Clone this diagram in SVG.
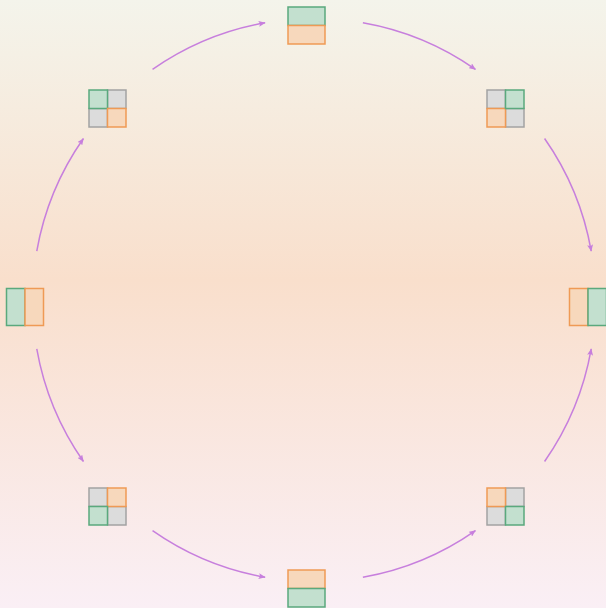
<svg xmlns="http://www.w3.org/2000/svg" width="606" height="608" viewBox="0 0 606 608">
<defs>
<linearGradient id="bg" x1="0" y1="0" x2="0" y2="1">
<stop offset="0" stop-color="#f4f4eb"/>
<stop offset="0.46" stop-color="#f9dfcc"/>
<stop offset="1" stop-color="#faeff5"/>
</linearGradient>
<marker id="ah" markerWidth="7" markerHeight="6" refX="6.5" refY="3" orient="auto" markerUnits="userSpaceOnUse">
<path d="M0,0 L7,3 L0,6 L1.5,3 z" fill="#c77fdd"/>
</marker>
<style>
.g{fill:#c3e0cf;stroke:#5aa97d;stroke-width:1.5}
.o{fill:#f7d8bc;stroke:#ef9a55;stroke-width:1.5}
.n{fill:#dcdcdc;stroke:#a3a3a3;stroke-width:1.5}
.c{fill:none;stroke:#c77fdd;stroke-width:1.5;marker-end:url(#ah)}
</style>
</defs>
<rect x="0" y="0" width="606" height="608" fill="url(#bg)"/>
<g id="connectors">
<path class="c" d="M36.78,251.12 A281.5,281.5 0 0 1 83.41,138.54"/>
<path class="c" d="M152.54,69.41 A281.5,281.5 0 0 1 265.12,22.78"/>
<path class="c" d="M362.88,22.78 A281.5,281.5 0 0 1 475.46,69.41"/>
<path class="c" d="M544.59,138.54 A281.5,281.5 0 0 1 591.22,251.12"/>
<path class="c" d="M544.59,461.46 A281.5,281.5 0 0 0 591.22,348.88"/>
<path class="c" d="M362.88,577.22 A281.5,281.5 0 0 0 475.46,530.59"/>
<path class="c" d="M152.54,530.59 A281.5,281.5 0 0 0 265.12,577.22"/>
<path class="c" d="M36.78,348.88 A281.5,281.5 0 0 0 83.41,461.46"/>
</g>
<g id="node-top">
<rect class="g" x="288" y="7" width="37" height="18.5"/>
<rect class="o" x="288" y="25.5" width="37" height="18.5"/>
</g>
<g id="node-top-right">
<rect class="n" x="487" y="90" width="18.5" height="18.5"/>
<rect class="n" x="505.5" y="108.5" width="18.5" height="18.5"/>
<rect class="o" x="487" y="108.5" width="18.5" height="18.5"/>
<rect class="g" x="505.5" y="90" width="18.5" height="18.5"/>
</g>
<g id="node-right">
<rect class="o" x="569.5" y="288.5" width="18.5" height="37"/>
<rect class="g" x="588" y="288.5" width="18.5" height="37"/>
</g>
<g id="node-bottom-right">
<rect class="n" x="505.5" y="488" width="18.5" height="18.5"/>
<rect class="n" x="487" y="506.5" width="18.5" height="18.5"/>
<rect class="o" x="487" y="488" width="18.5" height="18.5"/>
<rect class="g" x="505.5" y="506.5" width="18.5" height="18.5"/>
</g>
<g id="node-bottom">
<rect class="o" x="288" y="570" width="37" height="18.5"/>
<rect class="g" x="288" y="588.5" width="37" height="18.5"/>
</g>
<g id="node-bottom-left">
<rect class="n" x="89" y="488" width="18.5" height="18.5"/>
<rect class="n" x="107.5" y="506.5" width="18.5" height="18.5"/>
<rect class="o" x="107.5" y="488" width="18.5" height="18.5"/>
<rect class="g" x="89" y="506.5" width="18.5" height="18.5"/>
</g>
<g id="node-left">
<rect class="g" x="6.5" y="288.5" width="18.5" height="37"/>
<rect class="o" x="25" y="288.5" width="18.5" height="37"/>
</g>
<g id="node-top-left">
<rect class="n" x="107.5" y="90" width="18.5" height="18.5"/>
<rect class="n" x="89" y="108.5" width="18.5" height="18.5"/>
<rect class="g" x="89" y="90" width="18.5" height="18.5"/>
<rect class="o" x="107.5" y="108.5" width="18.5" height="18.5"/>
</g>
</svg>
